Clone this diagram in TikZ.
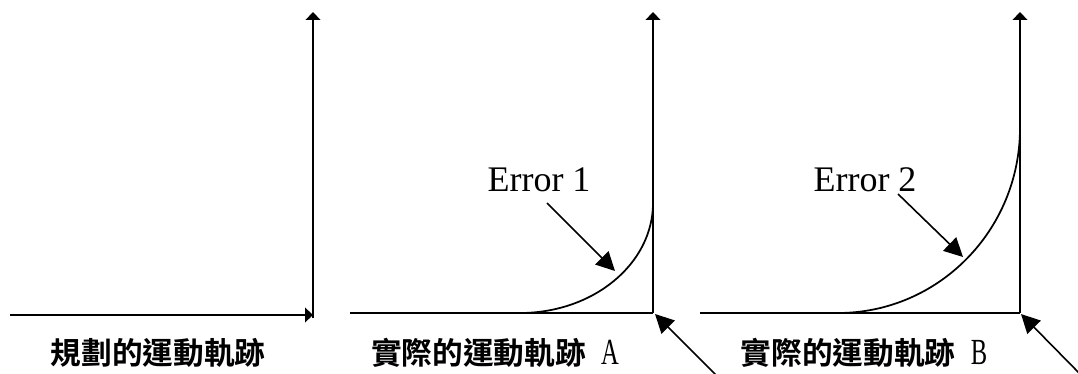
\documentclass[tikz,border=0pt]{standalone}
\usepackage{fontspec}
\usepackage{graphicx}
\setmainfont{Liberation Serif}
\newfontfamily\cjk{Noto Sans CJK TC}[BoldFont=* Bold]
\usetikzlibrary{arrows.meta}
\tikzset{
  axis/.style={line width=1.4pt, -{Triangle[length=6pt,width=11pt]}},
  trace/.style={line width=1.3pt},
  pointer/.style={line width=1.2pt, -{Triangle[length=14pt,width=14pt]}},
  cnlabel/.style={font=\cjk\bfseries\fontsize{23}{26}\selectfont, inner sep=0pt},
  errlabel/.style={font=\fontsize{27}{30}\selectfont, inner sep=0pt},
}
\newcommand{\trailletter}[1]{\hspace{0.5em}\scalebox{0.8}[1.2]{\rmfamily\mdseries #1}}
\begin{document}
\begin{tikzpicture}[x=0.75pt,y=-0.75pt]
\useasboundingbox (0,0) rectangle (1078,374);
% panel 1
\coordinate (h1s) at (10,315);
\coordinate (c1) at (313,315);
\coordinate (c1b) at (313,318);
\coordinate (v1t) at (313,12);
\draw[axis] (h1s) -- (c1);
\draw[axis] (c1b) -- (v1t);
\node[cnlabel] (t1) at (158,353) {規劃的運動軌跡};
% panel 2
\coordinate (h2s) at (350,313);
\coordinate (c2) at (653,313);
\coordinate (v2t) at (653,12);
\coordinate (a2s) at (520,313);
\coordinate (a2e) at (653,203);
\draw[line width=1.4pt] (h2s) -- (c2);
\draw[axis] (c2) -- (v2t);
\draw[trace] (a2s) .. controls (593.5,313) and (653,263.8) .. (a2e);
\node[errlabel] (e1) at (539,180) {Error 1};
\coordinate (e1s) at (547,203);
\coordinate (e1t) at (615,271);
\draw[pointer] (e1s) -- (e1t);
\coordinate (p2s) at (717,376);
\coordinate (p2t) at (655,314);
\draw[pointer] (p2s) -- (p2t);
\node[cnlabel] (t2) at (495,353) {實際的運動軌跡\trailletter{A}};
% panel 3
\coordinate (h3s) at (700,313);
\coordinate (c3) at (1020,313);
\coordinate (v3t) at (1020,12);
\coordinate (a3s) at (838,313);
\coordinate (a3e) at (1020,128);
\draw[line width=1.4pt] (h3s) -- (c3);
\draw[axis] (c3) -- (v3t);
\draw[trace] (a3s) .. controls (938.5,313) and (1020,230.2) .. (a3e);
\node[errlabel] (e2) at (865,180) {Error 2};
\coordinate (e2s) at (898,194);
\coordinate (e2t) at (963,257);
\draw[pointer] (e2s) -- (e2t);
\coordinate (p3s) at (1082,376);
\coordinate (p3t) at (1021,314);
\draw[pointer] (p3s) -- (p3t);
\node[cnlabel] (t3) at (864,353) {實際的運動軌跡\trailletter{B}};
\end{tikzpicture}
\end{document}
